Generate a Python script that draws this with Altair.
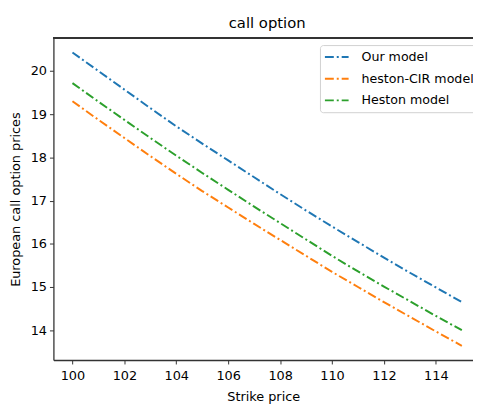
import altair as alt
import pandas as pd

strikes = list(range(100, 116))
our_model = [20.43, 20.00, 19.57, 19.14, 18.72, 18.32, 17.93, 17.54, 17.15, 16.77,
             16.40, 16.04, 15.68, 15.33, 14.99, 14.65]
heston_cir = [19.30, 18.87, 18.45, 18.03, 17.62, 17.22, 16.84, 16.46, 16.09, 15.72,
              15.35, 15.00, 14.65, 14.31, 13.97, 13.64]
heston = [19.72, 19.29, 18.87, 18.45, 18.04, 17.64, 17.25, 16.86, 16.48, 16.10,
          15.72, 15.36, 15.01, 14.67, 14.33, 14.00]
series_names = ["Our model", "heston-CIR model", "Heston model"]
series_colors = ["#1f77b4", "#ff7f0e", "#2ca02c"]
x_ticks = [100, 102, 104, 106, 108, 110, 112, 114]
y_ticks = [14, 15, 16, 17, 18, 19, 20]

rows = []
for name, vals in zip(series_names, [our_model, heston_cir, heston]):
    for k, v in zip(strikes, vals):
        rows.append({"strike": k, "price": v, "model": name})
df = pd.DataFrame(rows)

W, H = 425, 326
FONT = "DejaVu Sans"

lines = alt.Chart(df).mark_line(strokeWidth=2, strokeDash=[9, 3, 2, 3], clip=True).encode(
    x=alt.X("strike:Q",
            scale=alt.Scale(domain=[99.266, 115.43], nice=False, zero=False),
            axis=alt.Axis(values=x_ticks, title="Strike price", grid=False,
                          tickSize=4, labelPadding=6, titlePadding=8,
                          format="d")),
    y=alt.Y("price:Q",
            scale=alt.Scale(domain=[13.31, 20.76], nice=False, zero=False),
            axis=alt.Axis(values=y_ticks, title="European call option prices", grid=False,
                          tickSize=4, labelPadding=3, titlePadding=8, format="d")),
    color=alt.Color("model:N",
                    scale=alt.Scale(domain=series_names, range=series_colors),
                    legend=alt.Legend(title=None, orient="none", legendX=270, legendY=7,
                                      symbolType="M-2,0H2", symbolSize=144,
                                      symbolStrokeWidth=2, symbolDash=[9, 3, 2, 3],
                                      symbolOffset=5,
                                      labelFontSize=12.8, labelFont=FONT, labelColor="#000",
                                      labelOffset=18, rowPadding=8, padding=5,
                                      fillColor="white", strokeColor="#d0d0d0",
                                      cornerRadius=3)),
    order=alt.Order("strike:Q"),
)

top_spine = alt.Chart(df).mark_rule(color="#333", strokeWidth=1.3).encode(
    x=alt.value(0), x2=alt.value(W), y=alt.value(0)
)

chart = alt.layer(lines, top_spine).properties(
    width=W, height=H,
    title=alt.TitleParams("call option", fontSize=15, font=FONT, fontWeight="normal",
                          color="#000", offset=7, dx=4),
    autosize=alt.AutoSizeParams(type="none"),
    padding={"left": 46, "top": 28, "right": 0, "bottom": 43},
).configure_view(stroke=None).configure_axis(
    domainColor="#333", domainWidth=1.3, tickColor="#333", tickWidth=1,
    labelFont=FONT, labelFontSize=13, labelColor="#000",
    titleFont=FONT, titleFontSize=13, titleColor="#000", titleFontWeight="normal",
)

chart.save("out.html", embed_options={"renderer": "svg", "actions": False})
